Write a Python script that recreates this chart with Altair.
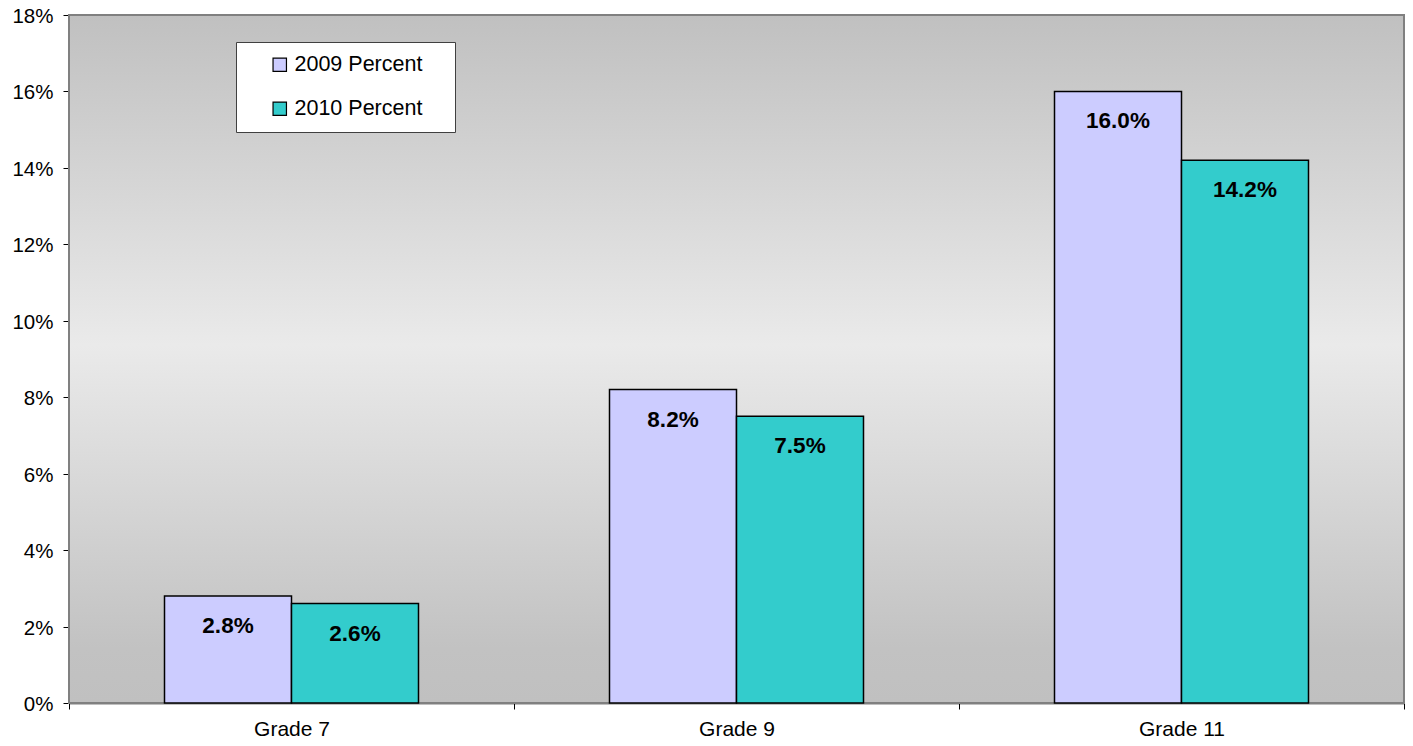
import altair as alt
import pandas as pd

grades = ["Grade 7", "Grade 9", "Grade 11"]
series = ["2009 Percent", "2010 Percent"]
values_2009 = [2.8, 8.2, 16.0]
values_2010 = [2.6, 7.5, 14.2]
colors = ["#CCCCFF", "#33CCCC"]

rows = []
for g, a, b in zip(grades, values_2009, values_2010):
    rows.append({"grade": g, "series": series[0], "value": a / 100, "label": f"{a:.1f}%"})
    rows.append({"grade": g, "series": series[1], "value": b / 100, "label": f"{b:.1f}%"})
df = pd.DataFrame(rows)

W, H = 1335, 688
FONT = "Liberation Sans"

bg = alt.Chart(pd.DataFrame({"a": [0]})).mark_rect(
    fill=alt.Gradient(
        gradient="linear", x1=0, x2=0, y1=0, y2=1,
        stops=[
            alt.GradientStop(color="#c0c0c0", offset=0),
            alt.GradientStop(color="#eaeaea", offset=0.48),
            alt.GradientStop(color="#c2c2c2", offset=0.92),
            alt.GradientStop(color="#c0c0c0", offset=1),
        ],
    ),
    stroke="#808080", strokeWidth=2,
).encode(x=alt.value(0), x2=alt.value(W), y=alt.value(0), y2=alt.value(H))

x_enc = alt.X("grade:N", sort=grades,
              scale=alt.Scale(paddingInner=0, paddingOuter=0),
              axis=alt.Axis(title=None, labelAngle=0, tickBand="extent",
                            labelFont=FONT, labelFontSize=21, labelColor="black",
                            labelPadding=9, tickColor="black", tickSize=6,
                            domainColor="black", domainWidth=1.5))
xo_enc = alt.XOffset("series:N", sort=series,
                     scale=alt.Scale(paddingInner=0, paddingOuter=0.752))
y_enc = alt.Y("value:Q", scale=alt.Scale(domain=[0, 0.18], nice=False),
              axis=alt.Axis(title=None, format=".0%", values=[i / 100 for i in range(0, 19, 2)],
                            labelFont=FONT, labelFontSize=20.5, labelColor="black",
                            labelPadding=10, labelOffset=1.5, tickColor="black", tickSize=6,
                            domainColor="black", domainWidth=1.5, grid=False))

bars = alt.Chart(df).mark_bar(stroke="black", strokeWidth=1.5).encode(
    x=x_enc, xOffset=xo_enc, y=y_enc,
    color=alt.Color("series:N", sort=series,
                    scale=alt.Scale(domain=series, range=colors),
                    legend=alt.Legend(
                        title=".", titleColor="white", titleFontSize=8,
                        titleOrient="right", titlePadding=18,
                        orient="none", legendX=167, legendY=27,
                        padding=12, symbolOffset=21, rowPadding=21,
                        fillColor="white", strokeColor="#404040",
                        symbolType="square", symbolSize=180, symbolStrokeColor="black",
                        symbolStrokeWidth=1.2, symbolOpacity=1,
                        labelFont=FONT, labelFontSize=21.5, labelColor="black",
                        labelOffset=4,
                    )),
)

labels = alt.Chart(df).mark_text(
    font=FONT, fontSize=22.5, fontWeight="bold", color="black",
    baseline="middle", dy=30,
).encode(x=x_enc, xOffset=xo_enc, y=y_enc, text="label:N")

chart = alt.layer(bg, bars, labels).properties(
    width=W, height=H,
    autosize=alt.AutoSizeParams(type="none"),
    padding={"left": 61, "top": 7, "right": 1, "bottom": 37},
).configure_view(stroke=None)

chart.save("out.html", embed_options={"renderer": "svg", "actions": False})
